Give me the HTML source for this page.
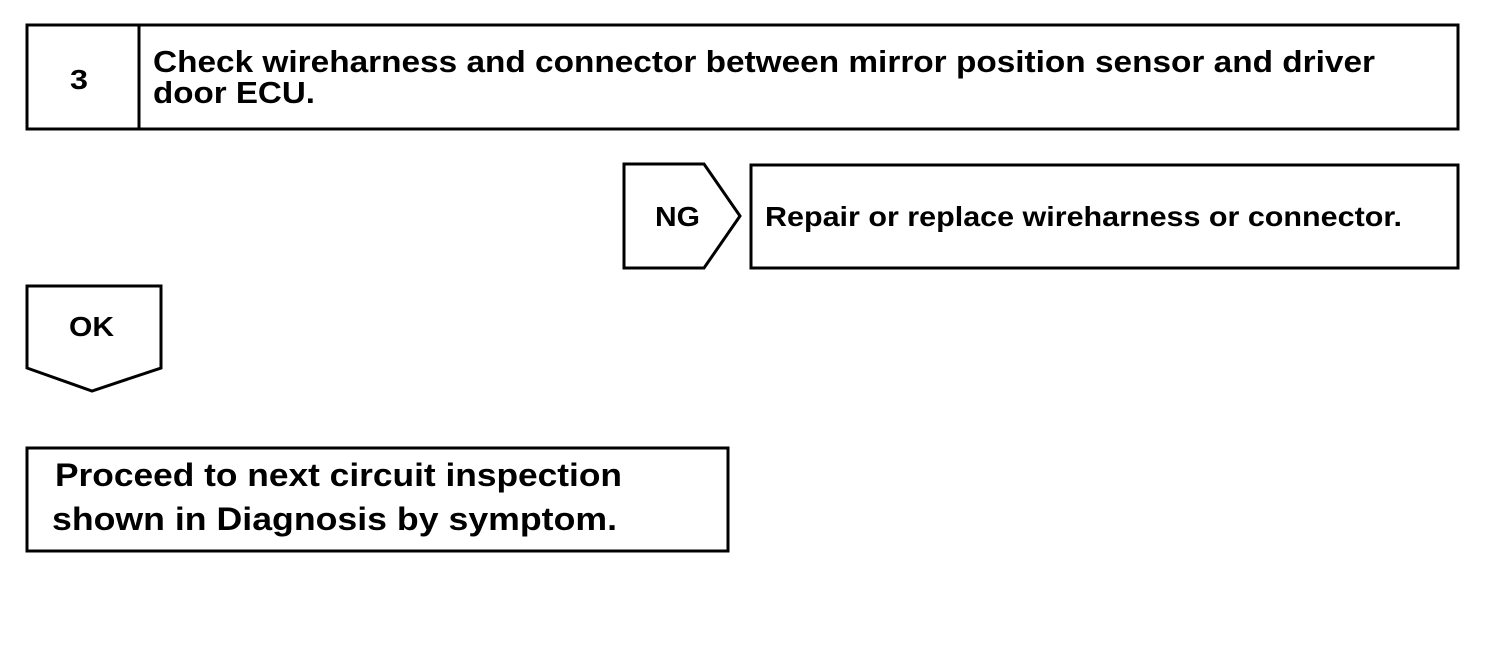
<!DOCTYPE html>
<html><head><meta charset="utf-8"><style>
html,body{margin:0;padding:0;background:#fff;}
svg{display:block;}
text{font-family:"Liberation Sans",Arial,sans-serif;font-weight:bold;fill:#000;}
</style></head><body>
<svg width="1504" height="658" viewBox="0 0 1504 658" xmlns="http://www.w3.org/2000/svg">
<g fill="none" stroke="#000" stroke-width="3">
<rect x="27" y="25" width="1431" height="104"/>
<line x1="139" y1="25" x2="139" y2="129"/>
<polygon points="624,164 704,164 740,216 704,268 624,268"/>
<rect x="751" y="165" width="707" height="103"/>
<polygon points="27,286 161,286 161,368 92,391 27,368"/>
<rect x="27" y="448" width="701" height="103"/>
</g>
<text x="70" y="89" font-size="28" textLength="18" lengthAdjust="spacingAndGlyphs">3</text>
<text x="153" y="72" font-size="31" textLength="1222" lengthAdjust="spacingAndGlyphs">Check wireharness and connector between mirror position sensor and driver</text>
<text x="153" y="103" font-size="31" textLength="162" lengthAdjust="spacingAndGlyphs">door ECU.</text>
<text x="655" y="226" font-size="28" textLength="45" lengthAdjust="spacingAndGlyphs">NG</text>
<text x="765" y="226" font-size="28" textLength="637" lengthAdjust="spacingAndGlyphs">Repair or replace wireharness or connector.</text>
<text x="69" y="336" font-size="28" textLength="45" lengthAdjust="spacingAndGlyphs">OK</text>
<text x="55" y="486" font-size="32" textLength="567" lengthAdjust="spacingAndGlyphs">Proceed to next circuit inspection</text>
<text x="52" y="530" font-size="32" textLength="565" lengthAdjust="spacingAndGlyphs">shown  in Diagnosis by symptom.</text>
</svg>
</body></html>
